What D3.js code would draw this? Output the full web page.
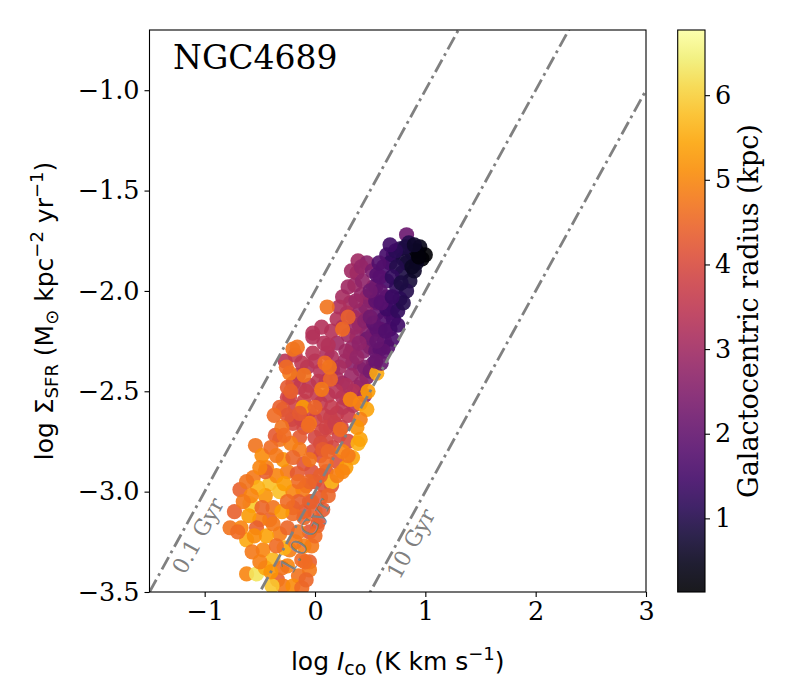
<!DOCTYPE html>
<html>
<head>
<meta charset="utf-8">
<script src="https://cdn.jsdelivr.net/npm/d3@7"></script>
<style>
  body { margin: 0; background: #fff; }
  svg { display: block; }
</style>
</head>
<body>
<svg width="800" height="700"></svg>
<script>
// rows: [log I_CO, log Sigma_SFR, galactocentric radius (kpc)]
const innerDisk = [
  [0.85,-1.76,1.0],[0.95,-1.78,0.4],[1.0,-1.82,0.15],[0.97,-1.84,0.2],[0.88,-1.81,0.5],
  [0.77,-1.79,1.0],[0.71,-1.82,1.3],[0.65,-1.82,1.5],[0.68,-1.86,1.2],[0.83,-1.86,0.7],
  [0.92,-1.86,0.5],[0.79,-1.91,0.9],[0.86,-1.95,0.8],[0.62,-1.88,1.6],[0.56,-1.92,1.8],
  [0.65,-1.95,1.5],[0.74,-1.98,1.2],[0.83,-2.0,1.0],[0.77,-2.04,1.1],[0.71,-2.08,1.3],
  [0.65,-2.03,1.6],[0.59,-2.0,1.9],[0.68,-2.11,1.5],[0.62,-2.14,1.7],[0.59,-1.93,1.8],
  [0.71,-2.14,1.5],[0.59,-2.19,1.9],[0.59,-2.29,1.9],[0.68,-2.19,1.6],[0.65,-2.09,1.4],
  [0.56,-2.19,1.9],[0.92,-1.80,0.3],[0.9,-1.9,0.6],[0.8,-1.84,0.8],[0.74,-1.88,1.0],
  [0.7,-1.93,1.2],[0.78,-1.96,0.9],[0.88,-1.88,0.55],[0.82,-1.78,0.9],[0.73,-1.8,1.1],
  [0.75,-2.1,1.2],[0.7,-2.24,1.6],[0.63,-2.25,1.8],[0.55,-2.05,1.9],[0.6,-2.06,1.8],
  [0.53,-2.16,1.9],[0.8,-2.06,1.0],[0.66,-2.28,1.7],[0.94,-1.83,0.25],[0.9,-1.77,0.6],
  [0.62,-2.3,1.9],[0.56,-2.25,2.0],[0.64,-2.2,1.7],[0.6,-2.36,2.0],[0.7,-2.03,1.3],
  [0.75,-2.17,1.4],[0.55,-2.35,2.1],[0.5,-2.13,2.2],[0.5,-2.0,2.2],[0.58,-1.86,1.7],
  [0.68,-1.77,1.4]
];

const midDisk = [
  [0.83,-1.72,2.1],[0.53,-1.98,2.3],[0.50,-2.05,2.2],[0.56,-2.11,2.0],[0.39,-1.85,3.0],
  [0.38,-1.91,3.0],[0.36,-1.97,2.9],[0.47,-1.86,2.6],[0.47,-2.03,2.8],[0.32,-2.06,3.1],
  [0.29,-2.11,3.3],[0.41,-2.10,2.8],[0.2,-2.14,3.3],[0.47,-2.13,2.9],[0.56,-2.06,2.1],
  [0.47,-2.21,2.5],[-0.02,-2.21,3.3],[-0.27,-2.35,3.4],[-0.02,-2.23,3.3],[-0.14,-2.48,3.5],
  [-0.25,-2.53,3.8],[-0.21,-2.64,3.7],[0.2,-2.61,3.6],[0.25,-2.46,2.9],[0.34,-2.36,2.6],
  [0.5,-2.28,2.0],[0.38,-2.23,2.8],[0.2,-2.26,3.0],[0.11,-2.31,3.2],[0.32,-2.31,2.9],
  [-0.02,-2.31,3.4],[-0.07,-2.38,3.3],[0.16,-2.39,3.1],[0.25,-2.53,3.3],[0.14,-2.63,3.7],
  [0.05,-2.56,3.6],[-0.05,-2.47,3.4],[-0.23,-2.53,3.8],[-0.2,-2.66,3.9],[0.0,-2.73,3.9],
  [0.29,-2.54,3.5],[0.38,-2.48,3.2],[0.47,-2.43,2.5],[0.41,-2.39,2.7],[0.53,-2.36,2.2],
  [0.47,-2.24,2.2],[0.34,-2.28,2.8],[0.16,-2.78,3.9],[0.14,-2.68,4.0],[0.43,-1.95,2.7],
  [0.42,-2.02,2.8],[0.25,-2.18,3.2],[0.3,-2.22,3.0],[0.4,-2.17,2.7],[0.52,-2.22,2.3],
  [0.44,-2.3,2.6],[0.27,-2.35,3.0],[0.08,-2.26,3.3],[0.05,-2.4,3.4],[0.1,-2.45,3.3],
  [0.2,-2.44,3.1],[0.33,-2.42,2.9],[0.42,-2.46,2.8],[0.12,-2.52,3.5],[0.02,-2.52,3.6],
  [-0.1,-2.55,3.7],[-0.05,-2.6,3.8],[0.08,-2.62,3.7],[0.3,-2.62,3.6],[0.24,-2.68,3.7],
  [0.06,-2.7,3.9],[-0.1,-2.68,3.9],[0.1,-2.75,3.9],[0.22,-2.72,3.8],[-0.15,-2.42,3.5],
  [-0.18,-2.32,3.6],[0.15,-2.2,3.3],[0.25,-2.03,3.1],[0.35,-2.13,3.0],[0.46,-2.08,2.6],
  [0.37,-2.05,2.9],[0.55,-2.3,2.1],[0.45,-2.38,2.5],[0.35,-2.5,3.3],[0.25,-2.58,3.5],
  [0.15,-2.58,3.6],[0.3,-2.75,4.0],[0.05,-2.82,4.0],[0.2,-2.85,4.1],[0.1,-2.9,4.1],
  [0.0,-2.95,4.1],[0.15,-2.97,4.2],[-0.05,-3.05,4.2],
  [0.0,-2.35,3.4],[0.15,-2.33,3.2],[0.22,-2.38,3.1],[0.28,-2.3,3.0],[0.38,-2.33,2.8],
  [0.12,-2.27,3.3],[0.03,-2.45,3.5],[-0.08,-2.5,3.6],[-0.18,-2.58,3.8],[-0.12,-2.64,3.8],
  [0.0,-2.64,3.8],[0.1,-2.68,3.8],[0.18,-2.66,3.7],[0.35,-2.57,3.4],[0.28,-2.47,3.2],
  [0.19,-2.5,3.4],[0.45,-2.52,3.0],[-0.2,-2.46,3.6],[-0.12,-2.36,3.5],[0.06,-2.18,3.3],
  [0.22,-2.08,3.2],[0.3,-1.98,3.0],[0.33,-1.9,3.0],[0.42,-1.88,2.8],[0.52,-1.9,2.4],
  [0.55,-1.98,2.2],[0.36,-2.18,2.9],[0.45,-2.15,2.6],[0.4,-2.26,2.7],[0.5,-2.4,2.3],
  [-0.02,-2.8,4.0],[-0.1,-2.86,4.1],[0.05,-2.76,4.0],[-0.03,-2.9,4.1],[0.08,-2.97,4.1],
  [-0.08,-2.97,4.2],[-0.1,-3.1,4.2],[0.03,-3.15,4.2],[-0.05,-3.2,4.2]
];

const outerDisk = [
  [0.11,-2.08,4.7],[0.25,-2.19,4.6],[0.3,-2.13,4.4],[-0.2,-2.29,4.7],[-0.23,-2.41,4.8],
  [0.09,-2.36,4.6],[0.14,-2.44,4.5],[0.06,-2.49,4.8],[-0.29,-2.59,4.2],[-0.11,-2.58,5.3],
  [-0.05,-2.66,4.8],[0.41,-2.56,5.0],[0.47,-2.59,5.4],[0.56,-2.41,5.5],[0.32,-2.54,5.0],
  [0.41,-2.64,4.9],[-0.32,-2.58,4.4],[-0.25,-2.62,4.2],[-0.14,-2.61,4.3],[-0.06,-2.67,4.6],
  [-0.14,-2.73,4.3],[-0.32,-2.74,4.7],[-0.16,-2.28,4.7],[-0.25,-2.48,4.3],[-0.36,-2.72,4.3],
  [-0.54,-2.77,4.7],[-0.73,-3.10,4.4],[-0.77,-3.18,4.7],[-0.62,-3.24,5.5],[-0.62,-3.41,5.0],
  [-0.53,-3.41,6.3],[0.34,-2.83,5.4],[0.39,-2.76,5.6],[0.15,-2.95,5.7],[-0.05,-3.35,4.4],
  [-0.05,-3.39,4.8],[0.02,-3.17,4.4],[-0.03,-3.27,4.8],[-0.59,-3.06,6.2],[-0.68,-2.99,4.4],
  [-0.56,-2.93,4.8],[-0.44,-2.88,4.9],[-0.41,-2.96,5.8],[-0.32,-3.0,5.8],[-0.25,-2.90,4.8],
  [-0.16,-2.91,4.3],[-0.2,-3.08,4.4],[-0.41,-3.14,4.4],[-0.32,-3.21,4.9],[-0.23,-3.29,4.9],
  [-0.34,-3.44,4.4],[-0.29,-3.47,4.8],[-0.39,-3.47,5.9],[-0.5,-3.14,4.9],[-0.47,-3.29,5.0],
  [-0.38,-3.34,5.7],[-0.14,-2.79,4.8],[0.07,-2.79,4.3],[0.05,-3.03,4.3],[-0.11,-2.99,4.8],
  [-0.29,-2.84,5.2],[-0.57,-3.07,6.0],[-0.53,-3.18,4.4],[-0.38,-3.08,4.7],[-0.09,-3.35,4.6],
  [-0.2,-3.11,4.6],[0.07,-3.09,4.3],[0.41,-2.74,5.4],[0.23,-2.69,4.6],[-0.45,-3.02,5.2],
  [-0.35,-2.92,5.0],[-0.3,-3.1,5.3],[-0.15,-3.2,4.7],[-0.1,-3.27,4.9],[-0.25,-3.37,5.0],
  [-0.15,-3.42,4.7],[-0.2,-3.47,5.1],[-0.12,-3.48,4.6],[-0.44,-3.22,5.4],[-0.55,-3.22,5.1],
  [-0.6,-3.12,5.3],[-0.48,-2.82,5.1],[-0.4,-2.78,4.6],[-0.3,-2.68,4.7],[-0.45,-3.38,5.5],
  [-0.28,-3.28,5.6],[-0.1,-3.13,4.5],[0.0,-3.1,4.4],[-0.05,-2.95,4.5],[0.1,-2.86,4.6],
  [0.25,-2.8,5.0],[0.28,-2.88,5.3],[0.05,-2.92,4.4],[-0.22,-2.76,4.9],[-0.37,-2.62,4.6],
  [-0.05,-2.84,4.7],[0.2,-2.92,4.9],[-0.2,-3.0,5.0],[-0.35,-3.27,4.6],[0.0,-3.22,4.6],
  [-0.08,-3.44,4.5],[-0.52,-2.98,5.6],[-0.67,-3.18,5.0],[-0.57,-3.3,4.8],[-0.45,-2.9,4.4],
  [0.12,-3.02,4.5],[-0.15,-3.05,4.4],
  [-0.26,-2.38,4.6],[-0.22,-2.5,4.4],[-0.1,-2.42,4.7],[0.0,-2.58,4.5],[0.13,-2.38,4.7],
  [-0.28,-2.72,4.6],[-0.2,-2.83,4.5],[-0.35,-2.82,4.8],[-0.5,-2.88,5.0],[-0.62,-2.95,4.7],
  [-0.58,-3.02,5.0],[-0.48,-3.08,4.5],[-0.38,-3.16,4.8],[-0.25,-3.18,4.5],[-0.12,-3.34,4.6],
  [-0.3,-3.38,4.7],[-0.4,-3.4,5.2],[-0.5,-3.35,4.9],[-0.65,-3.05,4.8],[-0.7,-3.2,4.6],
  [-0.15,-2.95,4.6],[0.25,-2.9,5.0],[0.3,-2.82,4.8],[0.12,-2.8,4.5],[0.38,-2.68,5.2],
  [0.48,-2.5,5.3],[-0.25,-3.05,4.6],[-0.28,-2.96,5.3],[-0.18,-3.25,4.8],[-0.03,-3.05,4.4]
];

// depletion time lines (Gyr) and where their labels sit
const depletionTimes = [0.1, 1, 10];
const depletionLabels = ["0.1 Gyr", "1.0 Gyr", "10 Gyr"];
const labelX = [-1.06, -0.09, 0.87];
const labelY = [-3.22, -3.22, -3.26];

const xTicks = [-1, 0, 1, 2, 3];
const yTicks = [-1.0, -1.5, -2.0, -2.5, -3.0, -3.5];
const cbTicks = [1, 2, 3, 4, 5, 6];

const svg = d3.select("svg");
const serif = "'DejaVu Serif', serif";
const sans = "'DejaVu Sans', sans-serif";

const x = d3.scaleLinear().domain([-1.5, 3]).range([149.5, 646]);
const y = d3.scaleLinear().domain([-3.5, -0.7]).range([592, 30]);
const color = d3.scaleSequential(d3.interpolateInferno).domain([0.13, 6.77]);

svg.append("clipPath").attr("id", "plot")
  .append("rect")
  .attr("x", x.range()[0]).attr("y", y.range()[1])
  .attr("width", x.range()[1] - x.range()[0])
  .attr("height", y.range()[0] - y.range()[1]);

const pts = midDisk.concat(outerDisk, innerDisk);

svg.append("g")
  .attr("clip-path", "url(#plot)")
  .selectAll("circle")
  .data(pts)
  .join("circle")
  .attr("cx", (d) => x(d[0]))
  .attr("cy", (d) => y(d[1]))
  .attr("r", 7.6)
  .attr("fill", (d) => color(d[2]))
  .attr("fill-opacity", 0.9);

// log S_SFR = log I_CO + 6 - log t  (t in yr)
const lines = svg.append("g").attr("clip-path", "url(#plot)");
depletionTimes.forEach((t) => {
  const off = 6 - Math.log10(t * 1e9);
  lines.append("line")
    .attr("x1", x(-1.5)).attr("y1", y(-1.5 + off))
    .attr("x2", x(3)).attr("y2", y(3 + off))
    .attr("stroke", "#808080")
    .attr("stroke-width", 2.8)
    .attr("stroke-dasharray", "14,4.5,2.8,4.5");
});

const ang = (Math.atan((y(0) - y(1)) / (x(1) - x(0))) * 180) / Math.PI;
svg.append("g")
  .selectAll("text")
  .data(depletionLabels)
  .join("text")
  .attr("transform", (d, i) => `translate(${x(labelX[i])},${y(labelY[i])}) rotate(${-ang})`)
  .attr("text-anchor", "middle")
  .attr("dominant-baseline", "central")
  .attr("fill", "#808080")
  .style("font", `22px ${serif}`)
  .text((d) => d);

// axes
const xAxis = svg.append("g")
  .attr("transform", `translate(0,${y.range()[0]})`)
  .call(d3.axisBottom(x).tickValues(xTicks).tickSize(5).tickPadding(5).tickFormat(d3.format("d")));
const yAxis = svg.append("g")
  .attr("transform", `translate(${x.range()[0]},0)`)
  .call(d3.axisLeft(y).tickValues(yTicks).tickSize(5).tickPadding(5).tickFormat(d3.format(".1f")));
[xAxis, yAxis].forEach((g) => {
  g.select(".domain").remove();
  g.selectAll("line").attr("stroke", "#000").attr("stroke-width", 1.1);
  g.selectAll("text").style("font", `25.5px ${serif}`).attr("fill", "#000");
});

svg.append("rect")
  .attr("x", x.range()[0]).attr("y", y.range()[1])
  .attr("width", x.range()[1] - x.range()[0])
  .attr("height", y.range()[0] - y.range()[1])
  .attr("fill", "none").attr("stroke", "#000").attr("stroke-width", 1.1);

svg.append("text")
  .attr("x", 173).attr("y", 69)
  .style("font", `33px ${serif}`)
  .text("NGC4689");

// x label
const xl = svg.append("text")
  .attr("x", (x.range()[0] + x.range()[1]) / 2).attr("y", 670)
  .attr("text-anchor", "middle")
  .style("font", `25px ${sans}`);
xl.append("tspan").text("log ");
xl.append("tspan").attr("font-style", "italic").text("I");
xl.append("tspan").attr("font-size", "19px").attr("dy", 5).text("co");
xl.append("tspan").attr("dy", -5).text(" (K km s");
xl.append("tspan").attr("font-size", "18px").attr("dy", -10).text("\u22121");
xl.append("tspan").attr("dy", 10).text(")");

// y label
const yl = svg.append("text")
  .attr("transform", `translate(53,${(y.range()[0] + y.range()[1]) / 2}) rotate(-90)`)
  .attr("text-anchor", "middle")
  .style("font", `25px ${sans}`);
yl.append("tspan").text("log \u03a3");
yl.append("tspan").attr("font-size", "18px").attr("dy", 5).text("SFR");
yl.append("tspan").attr("dy", -5).text(" (M");
yl.append("tspan").attr("font-size", "18px").attr("dy", 5).text("\u2299");
yl.append("tspan").attr("dy", -5).text(" kpc");
yl.append("tspan").attr("font-size", "18px").attr("dy", -10).text("\u22122");
yl.append("tspan").attr("dy", 10).text(" yr");
yl.append("tspan").attr("font-size", "18px").attr("dy", -10).text("\u22121");
yl.append("tspan").attr("dy", 10).text(")");

// colorbar
const cbX = 677.7, cbW = 27.3;
const cb = d3.scaleLinear().domain(color.domain()).range([592, 30]);
const grad = svg.append("defs").append("linearGradient")
  .attr("id", "cbgrad").attr("x1", 0).attr("y1", 1).attr("x2", 0).attr("y2", 0);
grad.selectAll("stop")
  .data(d3.range(0, 1.0001, 0.05))
  .join("stop")
  .attr("offset", (d) => d)
  .attr("stop-color", (d) => d3.interpolateInferno(d))
  .attr("stop-opacity", 0.9);
svg.append("rect")
  .attr("x", cbX).attr("y", cb.range()[1])
  .attr("width", cbW).attr("height", cb.range()[0] - cb.range()[1])
  .attr("fill", "url(#cbgrad)")
  .attr("stroke", "#000").attr("stroke-width", 1.1);
const cbAxis = svg.append("g")
  .attr("transform", `translate(${cbX + cbW},0)`)
  .call(d3.axisRight(cb).tickValues(cbTicks).tickSize(5).tickPadding(5).tickFormat(d3.format("d")));
cbAxis.select(".domain").remove();
cbAxis.selectAll("line").attr("stroke", "#000").attr("stroke-width", 1.1);
cbAxis.selectAll("text").style("font", `25.5px ${serif}`).attr("fill", "#000");

svg.append("text")
  .attr("transform", `translate(758,${(cb.range()[0] + cb.range()[1]) / 2}) rotate(-90)`)
  .attr("text-anchor", "middle")
  .style("font", `27px ${serif}`)
  .text("Galactocentric radius (kpc)");
</script>
</body>
</html>
